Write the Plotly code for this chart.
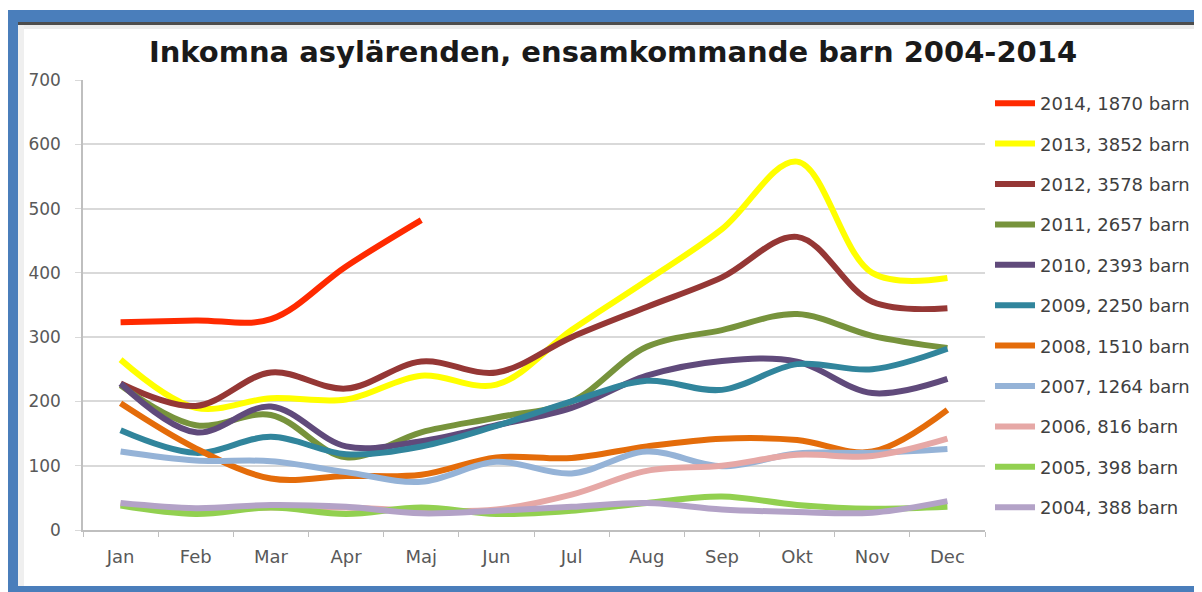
import plotly.graph_objects as go

months = ["Jan", "Feb", "Mar", "Apr", "Maj", "Jun", "Jul", "Aug", "Sep", "Okt", "Nov", "Dec"]

y2014 = [323, 326, 328, 410, 482]
y2013 = [265, 190, 205, 203, 240, 226, 311, 388, 468, 573, 400, 392]
y2012 = [228, 193, 245, 220, 262, 245, 300, 347, 393, 456, 355, 345]
y2011 = [225, 163, 179, 113, 152, 175, 200, 285, 311, 336, 302, 283]
y2010 = [228, 152, 192, 130, 138, 163, 190, 240, 263, 262, 213, 235]
y2009 = [155, 120, 145, 118, 130, 162, 200, 232, 218, 258, 250, 282]
y2008 = [197, 127, 80, 84, 86, 113, 112, 130, 142, 140, 122, 187]
y2007 = [122, 108, 107, 90, 75, 106, 88, 122, 99, 119, 120, 126]
y2006 = [40, 32, 35, 35, 30, 32, 55, 92, 100, 117, 115, 142]
y2005 = [38, 25, 35, 25, 35, 25, 30, 42, 52, 39, 33, 36]
y2004 = [42, 34, 39, 36, 26, 30, 36, 42, 32, 28, 27, 45]

series_names = ["2014, 1870 barn", "2013, 3852 barn", "2012, 3578 barn", "2011, 2657 barn",
                "2010, 2393 barn", "2009, 2250 barn", "2008, 1510 barn", "2007, 1264 barn",
                "2006, 816 barn", "2005, 398 barn", "2004, 388 barn"]
series_values = [y2014, y2013, y2012, y2011, y2010, y2009, y2008, y2007, y2006, y2005, y2004]
series_colors = ["#FF2A00", "#FFFF00", "#953735", "#77933C", "#604A7B", "#31859C",
                 "#E46C0A", "#95B3D7", "#E6A8A6", "#92D050", "#B3A2C7"]

y_ticks = [0, 100, 200, 300, 400, 500, 600, 700]

fig = go.Figure()
for name, vals, col in zip(series_names, series_values, series_colors):
    fig.add_trace(go.Scatter(
        x=months[:len(vals)], y=vals, name=name, mode="lines",
        line=dict(color=col, width=6, shape="spline", smoothing=1.0),
        legendgroup=name,
    ))

# The page body has an 8px margin; work in reference-pixel coordinates and offset.
OFF = 8
FW, FH = 1202 - OFF, 592 - OFF
L, R, T, B = 83 - OFF, 985 - OFF, 80 - OFF, 530 - OFF
W, H = R - L, B - T
def fx(px):
    return (px - OFF - L) / W
def fy(py):
    return 1 - (py - OFF - T) / H

blue = "#4A7EBB"
shapes = [
    dict(type="rect", xref="paper", yref="paper", x0=fx(8), x1=fx(18), y0=fy(592), y1=fy(10),
         fillcolor=blue, line_width=0, layer="above"),
    dict(type="rect", xref="paper", yref="paper", x0=fx(8), x1=fx(1202), y0=fy(22), y1=fy(10),
         fillcolor=blue, line_width=0, layer="above"),
    dict(type="rect", xref="paper", yref="paper", x0=fx(18), x1=fx(1202), y0=fy(25), y1=fy(22),
         fillcolor="#4d4d4d", line_width=0, layer="above"),
    dict(type="rect", xref="paper", yref="paper", x0=fx(18), x1=fx(1202), y0=fy(29), y1=fy(25),
         fillcolor="#ececec", line_width=0, layer="above"),
    dict(type="rect", xref="paper", yref="paper", x0=fx(18), x1=fx(24), y0=fy(586), y1=fy(25),
         fillcolor="#efefef", line_width=0, layer="above"),
    dict(type="rect", xref="paper", yref="paper", x0=fx(8), x1=fx(1202), y0=fy(592), y1=fy(586),
         fillcolor=blue, line_width=0, layer="above"),
]

fig.update_layout(
    width=FW, height=FH,
    margin=dict(l=L, r=FW - R, t=T, b=FH - B, autoexpand=False),
    paper_bgcolor="white", plot_bgcolor="white",
    title=dict(text="<b>Inkomna asylärenden, ensamkommande barn 2004-2014</b>",
               x=fx(613), xanchor="center", xref="paper", y=1 - (52 - OFF) / FH, yanchor="middle",
               font=dict(family="DejaVu Sans", size=29, color="#1a1a1a")),
    font=dict(family="DejaVu Sans", color="#595959"),
    showlegend=True,
    legend=dict(x=fx(990), xanchor="left", y=fy(85), yanchor="top",
                font=dict(family="DejaVu Sans", size=18, color="#404040"),
                tracegroupgap=14, itemwidth=40, bgcolor="rgba(0,0,0,0)",
                traceorder="grouped"),
    shapes=shapes,
)
fig.update_xaxes(type="category", categoryorder="array", categoryarray=months,
                 range=[-0.5, 11.5], showgrid=False, showline=True, linecolor="#bfbfbf",
                 linewidth=1.5, ticks="outside", tickson="boundaries", ticklen=5,
                 tickcolor="#bfbfbf", ticklabelstandoff=10,
                 tickfont=dict(family="DejaVu Sans", size=18, color="#595959"),
                 fixedrange=True)
fig.update_yaxes(range=[0, 700], tickvals=y_ticks, showgrid=True, gridcolor="#d9d9d9",
                 gridwidth=1.5, showline=True, linecolor="#bfbfbf", linewidth=1.5,
                 ticks="outside", ticklen=6, tickcolor="#d9d9d9", zeroline=False,
                 ticklabelstandoff=11,
                 tickfont=dict(family="DejaVu Sans", size=17, color="#595959"), fixedrange=True)

fig.write_html("out.html")
